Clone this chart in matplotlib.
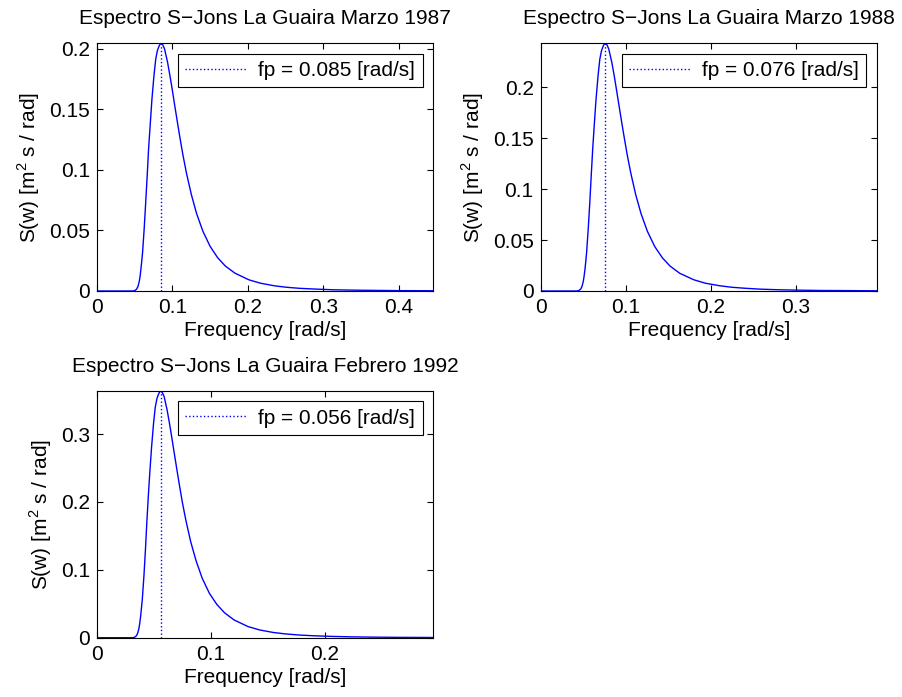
import matplotlib
matplotlib.use('Agg')
import matplotlib.pyplot as plt
from matplotlib.ticker import FormatStrFormatter

plt.rcParams['font.family'] = ['Liberation Sans', 'DejaVu Sans']
plt.rcParams['font.size'] = 15
plt.rcParams['mathtext.fontset'] = 'custom'
plt.rcParams['mathtext.rm'] = 'Liberation Sans'

# Marzo 1987
w_1987 = [0, 0.0468, 0.0498, 0.0525, 0.0544, 0.0559, 0.0570, 0.0581, 0.0592, 0.0604, 0.0626,
          0.0646, 0.0666, 0.0684, 0.0705, 0.0727, 0.0755, 0.0778, 0.0800, 0.0825, 0.0844,
          0.0871, 0.0895, 0.0935, 0.0967, 0.0995, 0.1029, 0.1063, 0.1096, 0.1139, 0.1186,
          0.1250, 0.1320, 0.1403, 0.1499, 0.1598, 0.1700, 0.1828, 0.2013, 0.2168, 0.2349,
          0.2508, 0.2684, 0.2890, 0.3131, 0.3400, 0.3691, 0.3995, 0.445]
s_1987 = [0, 0, 0.0002, 0.0015, 0.0039, 0.0076, 0.0115, 0.0174, 0.0241, 0.0317, 0.0521,
          0.0736, 0.0961, 0.1176, 0.1370, 0.1575, 0.1779, 0.1912, 0.1984, 0.2025, 0.2045,
          0.2033, 0.1998, 0.1888, 0.1775, 0.1671, 0.1534, 0.1403, 0.1276, 0.1121, 0.0971,
          0.0796, 0.0638, 0.0493, 0.0368, 0.0275, 0.0206, 0.0147, 0.0092, 0.0064, 0.0043,
          0.0031, 0.0022, 0.0016, 0.0010, 0.0007, 0.0005, 0.0003, 0.0002]
fp_1987 = 0.085

# Marzo 1988
w_1988 = [0, 0.0418, 0.0445, 0.0470, 0.0486, 0.0500, 0.0509, 0.0520, 0.0530, 0.0540, 0.0560,
          0.0578, 0.0595, 0.0612, 0.0630, 0.0650, 0.0675, 0.0695, 0.0715, 0.0737, 0.0755,
          0.0779, 0.0800, 0.0836, 0.0865, 0.0889, 0.0920, 0.0950, 0.0980, 0.1018, 0.1060,
          0.1117, 0.1180, 0.1254, 0.1340, 0.1429, 0.1520, 0.1634, 0.1800, 0.1938, 0.2100,
          0.2242, 0.2400, 0.2584, 0.2800, 0.3040, 0.3300, 0.3572, 0.395]
s_1988 = [0, 0, 0.0003, 0.0018, 0.0046, 0.0090, 0.0136, 0.0207, 0.0287, 0.0377, 0.0620,
          0.0875, 0.1142, 0.1397, 0.1628, 0.1871, 0.2114, 0.2272, 0.2357, 0.2406, 0.2430,
          0.2415, 0.2374, 0.2243, 0.2109, 0.1985, 0.1823, 0.1667, 0.1516, 0.1332, 0.1154,
          0.0945, 0.0758, 0.0586, 0.0437, 0.0327, 0.0245, 0.0174, 0.0110, 0.0076, 0.0052,
          0.0037, 0.0027, 0.0018, 0.0012, 0.0008, 0.0005, 0.0004, 0.0002]
fp_1988 = 0.076

# Febrero 1992
w_1992 = [0, 0.0308, 0.0328, 0.0346, 0.0358, 0.0368, 0.0375, 0.0383, 0.0390, 0.0398, 0.0413,
          0.0426, 0.0438, 0.0451, 0.0464, 0.0479, 0.0497, 0.0512, 0.0527, 0.0543, 0.0556,
          0.0574, 0.0590, 0.0616, 0.0637, 0.0655, 0.0678, 0.0700, 0.0722, 0.0750, 0.0781,
          0.0823, 0.0870, 0.0924, 0.0987, 0.1053, 0.1120, 0.1204, 0.1326, 0.1428, 0.1547,
          0.1652, 0.1768, 0.1904, 0.2063, 0.2240, 0.2432, 0.2632, 0.295]
s_1992 = [0, 0, 0.0004, 0.0027, 0.0069, 0.0134, 0.0204, 0.0309, 0.0429, 0.0563, 0.0927,
          0.1309, 0.1708, 0.2090, 0.2435, 0.2799, 0.3162, 0.3399, 0.3526, 0.3599, 0.3635,
          0.3613, 0.3551, 0.3355, 0.3155, 0.2970, 0.2726, 0.2494, 0.2268, 0.1992, 0.1727,
          0.1414, 0.1134, 0.0876, 0.0654, 0.0489, 0.0367, 0.0261, 0.0164, 0.0114, 0.0077,
          0.0056, 0.0040, 0.0028, 0.0019, 0.0012, 0.0008, 0.0005, 0.0003]
fp_1992 = 0.056

titles = ['Espectro S\u2212Jons La Guaira Marzo 1987',
          'Espectro S\u2212Jons La Guaira Marzo 1988',
          'Espectro S\u2212Jons La Guaira Febrero 1992']

fig = plt.figure(figsize=(9.02, 6.97), dpi=100)
positions = [[0.1075, 0.5825, 0.3725, 0.3555],
             [0.5994, 0.5825, 0.3726, 0.3555],
             [0.1075, 0.0851, 0.3725, 0.3539]]

series = [(w_1987, s_1987, fp_1987, [0, 0.05, 0.1, 0.15, 0.2], [0, 0.1, 0.2, 0.3, 0.4]),
          (w_1988, s_1988, fp_1988, [0, 0.05, 0.1, 0.15, 0.2], [0, 0.1, 0.2, 0.3]),
          (w_1992, s_1992, fp_1992, [0, 0.1, 0.2, 0.3], [0, 0.1, 0.2])]

for pos, (w, s, fp, yt, xt), title in zip(positions, series, titles):
    ax = fig.add_axes(pos)
    ax.plot(w, s, color='b', lw=1.0)
    ax.plot([fp, fp], [0, max(s)], color='b', ls=':', lw=1.0,
            label='fp = %.3f [rad/s]' % fp)
    ax.set_xlim(0, w[-1])
    ax.set_ylim(0, max(s))
    ax.set_xticks(xt)
    ax.set_yticks(yt)
    ax.xaxis.set_major_formatter(FormatStrFormatter('%g'))
    ax.yaxis.set_major_formatter(FormatStrFormatter('%g'))
    ax.tick_params(direction='in', top=True, right=True, length=4, width=0.8, pad=5)
    for sp in ax.spines.values():
        sp.set_linewidth(0.8)
    ax.set_title(title, fontsize=15, pad=13.5)
    ax.set_xlabel('Frequency [rad/s]', labelpad=3)
    ax.set_ylabel('S(w) [m$^2$ s / rad]', labelpad=5)
    leg = ax.legend(loc='upper right', fancybox=False, framealpha=1,
                    edgecolor='k', handlelength=2.9, borderaxespad=0.5,
                    borderpad=0.35, handletextpad=0.6)
    leg.get_frame().set_linewidth(0.8)

fig.savefig('out.png', dpi=100)
